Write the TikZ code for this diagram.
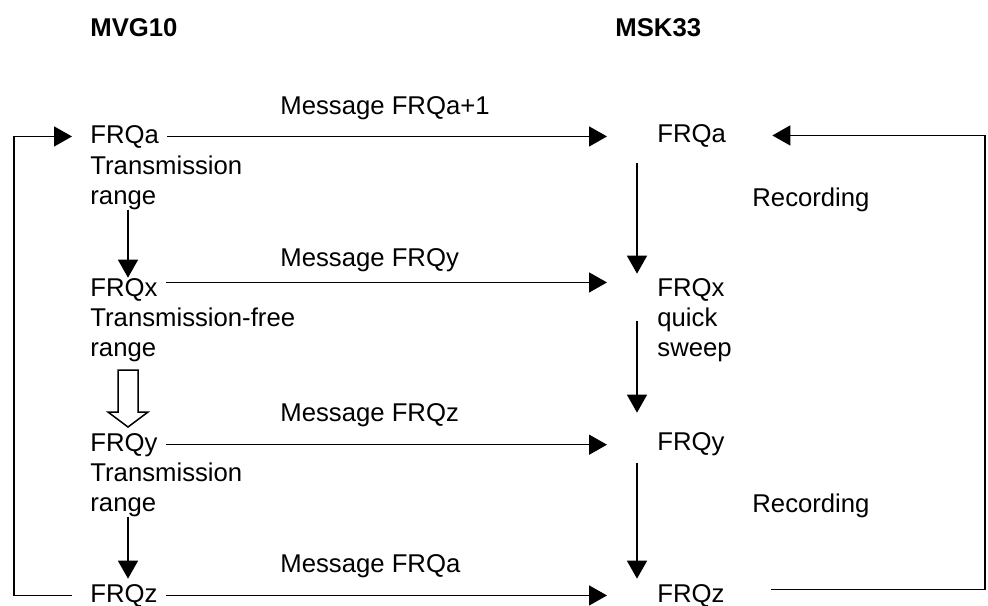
\documentclass[tikz,border=0pt]{standalone}
\usepackage{fontspec}
\setmainfont{Liberation Sans}
\usetikzlibrary{arrows.meta}

\begin{document}
\begin{tikzpicture}[x=0.5pt,y=-0.5pt]
            \tikzset{lbl/.style={inner sep=0pt, anchor=base west, align=left, font=\fontsize{12.85}{15}\selectfont},
                     head/.style={lbl, font=\fontsize{12.85}{15}\selectfont\bfseries},
                     flow/.style={line width=0.75pt, -{Triangle[length=9pt,width=10pt]}},
                     msg/.style={flow, shorten <=4pt},
                     hollow/.style={line width=0.75pt, fill=white}}

            \useasboundingbox (0,0) rectangle (988,605);

            \coordinate (lcol) at (128,0);
            \coordinate (rcol) at (637,0);
            \coordinate (rin) at (607,0);
            \coordinate (lloop) at (14,0);
            \coordinate (rloop) at (985,0);

            \node[head] (mvg) at (90,36) {MVG10};
            \node[head] (msk) at (615,36) {MSK33};

            \node[lbl] (lfa) at (90,143) {FRQa};
            \node[lbl] (lfaD) at (90,204) {Transmission\\range};
            \node[lbl] (lfx) at (90,296) {FRQx};
            \node[lbl] (lfxD) at (90,356) {Transmission-free\\range};
            \node[lbl] (lfy) at (90,451) {FRQy};
            \node[lbl] (lfyD) at (90,511) {Transmission\\range};
            \node[lbl] (lfz) at (90,602) {FRQz};

            \node[lbl] (rfa) at (657,142) {FRQa};
            \node[lbl] (rfx) at (657,296) {FRQx};
            \node[lbl] (rfxD) at (657,356) {quick\\sweep};
            \node[lbl] (rfy) at (657,450) {FRQy};
            \node[lbl] (rfz) at (657,602) {FRQz};

            \node[lbl] (rec1) at (752,206) {Recording};
            \node[lbl] (rec2) at (752,512) {Recording};

            \node[lbl] (m1) at (280,114) {Message FRQa+1};
            \node[lbl] (m2) at (280,266) {Message FRQy};
            \node[lbl] (m3) at (280,421) {Message FRQz};
            \node[lbl] (m4) at (280,572) {Message FRQa};

            \draw[msg] (lfa.east) -- (lfa.east -| rin);
            \draw[msg] ([yshift=3.5pt]lfx.east) -- ([yshift=3.5pt]lfx.east -| rin);
            \draw[msg] (lfy.east) -- (lfy.east -| rin);
            \draw[msg] (lfz.east) -- (lfz.east -| rin);

            \draw[flow] (lfaD.south -| lcol) -- (lfx.north -| lcol);
            \draw[flow, shorten >=2.5pt] (lfyD.south -| lcol) -- (lfz.north -| lcol);
            \coordinate (hol) at (128,370);
            \draw[hollow] (hol) ++(-10,0) -- ++(20,0) -- ++(0,42) -- ++(10,0) -- ++(-20,15) -- ++(-20,-15) -- ++(10,0) -- cycle;

            \draw[flow, shorten <=8pt, shorten >=2pt] (rfa.south -| rcol) -- (rfx.north -| rcol);
            \draw[flow, shorten <=10pt, shorten >=9.5pt] (rfx.south -| rcol) -- (rfy.north -| rcol);
            \draw[flow, shorten <=3.5pt, shorten >=2.5pt] (rfy.south -| rcol) -- (rfz.north -| rcol);

            \draw[flow] ([xshift=-9pt]lfz.west) -- (lfz.west -| lloop) -- (lfa.west -| lloop) -- ([xshift=-9pt]lfa.west);
            \draw[flow] ([xshift=23pt,yshift=3pt]rfz.east) -- ([yshift=3pt]rfz.east -| rloop) -- (rfa.east -| rloop) -- ([xshift=23pt]rfa.east);
        \end{tikzpicture}
\end{document}
